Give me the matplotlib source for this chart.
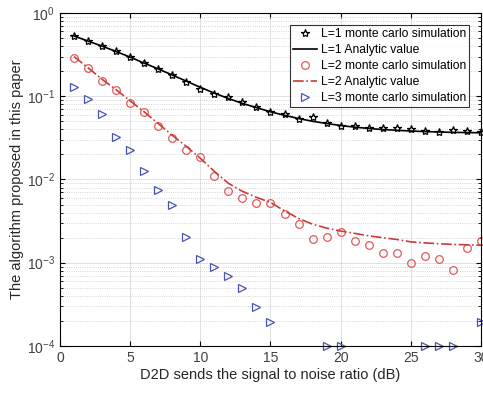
import matplotlib
matplotlib.use("Agg")
from matplotlib import pyplot as plt
from matplotlib.ticker import LogLocator, NullFormatter

plt.rcParams['font.family'] = ['Liberation Sans', 'DejaVu Sans']

snr = list(range(1, 31))

# L=1 monte carlo (stars)
l1_mc = [0.535, 0.466, 0.405, 0.347, 0.296, 0.251, 0.213, 0.180, 0.150, 0.122,
         0.107, 0.099, 0.0847, 0.0738, 0.0649, 0.0608, 0.054, 0.0565, 0.0479, 0.0437,
         0.0437, 0.041, 0.041, 0.041, 0.040, 0.0384, 0.037, 0.0389, 0.0384, 0.037]
# L=1 analytic
l1_an = [0.53, 0.46, 0.40, 0.345, 0.295, 0.25, 0.213, 0.18, 0.152, 0.128,
         0.109, 0.094, 0.082, 0.073, 0.065, 0.059, 0.054, 0.050, 0.047, 0.0445,
         0.0425, 0.041, 0.0398, 0.039, 0.0382, 0.0376, 0.0372, 0.0368, 0.0366, 0.0364]
# L=2 monte carlo (circles)
l2_mc = [0.288, 0.219, 0.154, 0.118, 0.083, 0.064, 0.0445, 0.0316, 0.0225, 0.0184,
         0.0109, 0.00724, 0.00604, 0.00518, 0.00527, 0.00381, 0.00288, 0.00193, 0.00202, 0.00235,
         0.00183, 0.00164, 0.00131, 0.00131, 0.00099, 0.00119, 0.00111, 0.00081, 0.0015, 0.00181]
# L=2 analytic
l2_an = [0.30, 0.22, 0.16, 0.12, 0.088, 0.065, 0.047, 0.034, 0.025, 0.018,
         0.0125, 0.0090, 0.0072, 0.0061, 0.0053, 0.0042, 0.0034, 0.0029, 0.0026, 0.0024,
         0.00225, 0.0021, 0.0020, 0.0019, 0.00178, 0.00173, 0.00169, 0.00166, 0.00164, 0.00162]
# L=3 monte carlo (triangles), zeros not shown
l3_x = [1, 2, 3, 4, 5, 6, 7, 8, 9, 10, 11, 12, 13, 14, 15, 19, 20, 26, 27, 28, 30]
l3_mc = [0.129, 0.093, 0.0614, 0.0325, 0.0223, 0.0126, 0.00745, 0.0049, 0.00204, 0.0011,
         0.00089, 0.0007, 0.000494, 0.00029, 0.000195, 1e-4, 1e-4, 1e-4, 1e-4, 1e-4, 0.000195]

fig = plt.figure(figsize=(4.83, 3.94), dpi=100)
ax = fig.add_axes([0.124, 0.122, 0.872, 0.845])

ax.semilogy(snr, l1_mc, '*', color='black', mfc='none', ms=6, mew=0.9,
            label='L=1 monte carlo simulation', clip_on=False)
ax.semilogy(snr, l1_an, '-', color='black', lw=1.2, label='L=1 Analytic value')
ax.semilogy(snr, l2_mc, 'o', color='#e05a5a', mfc='none', ms=5.5, mew=0.9,
            label='L=2 monte carlo simulation', clip_on=False)
ax.semilogy(snr, l2_an, '-.', color='#cc3b3b', lw=1.2, label='L=2 Analytic value')
ax.semilogy(l3_x, l3_mc, '>', color='#4a55b0', mfc='none', ms=5.5, mew=0.9,
            label='L=3 monte carlo simulation', clip_on=False)

ax.set_xlim(0, 30)
ax.set_ylim(1e-4, 1)
ax.set_xticks([0, 5, 10, 15, 20, 25, 30])
ax.yaxis.set_minor_locator(LogLocator(base=10, subs=range(2, 10)))
ax.yaxis.set_minor_formatter(NullFormatter())
ax.grid(True, which='major', color='#dcdcdc', lw=0.6, ls='-')
ax.grid(True, which='minor', axis='y', color='#c8c8c8', lw=0.6, ls=':')
ax.tick_params(which='both', direction='in', top=True, right=True,
               labelsize=10, labelcolor='#404040')
ax.tick_params(which='minor', length=2)
ax.tick_params(which='major', length=3.5)
for s in ax.spines.values():
    s.set_linewidth(0.8)

ax.set_xlabel('D2D sends the signal to noise ratio (dB)', fontsize=10.5, color='#262626', labelpad=2)
ax.set_ylabel('The algorithm proposed in this paper', fontsize=10.5, color='#262626', labelpad=2)

leg = ax.legend(loc='upper right', fontsize=8.7, frameon=True, fancybox=False,
                edgecolor='black', handlelength=2.0, borderpad=0.25, labelspacing=0.33,
                handletextpad=0.3, borderaxespad=0.0, bbox_to_anchor=(0.971, 0.964))
leg.get_frame().set_linewidth(0.8)

fig.savefig('out.png', dpi=100)
